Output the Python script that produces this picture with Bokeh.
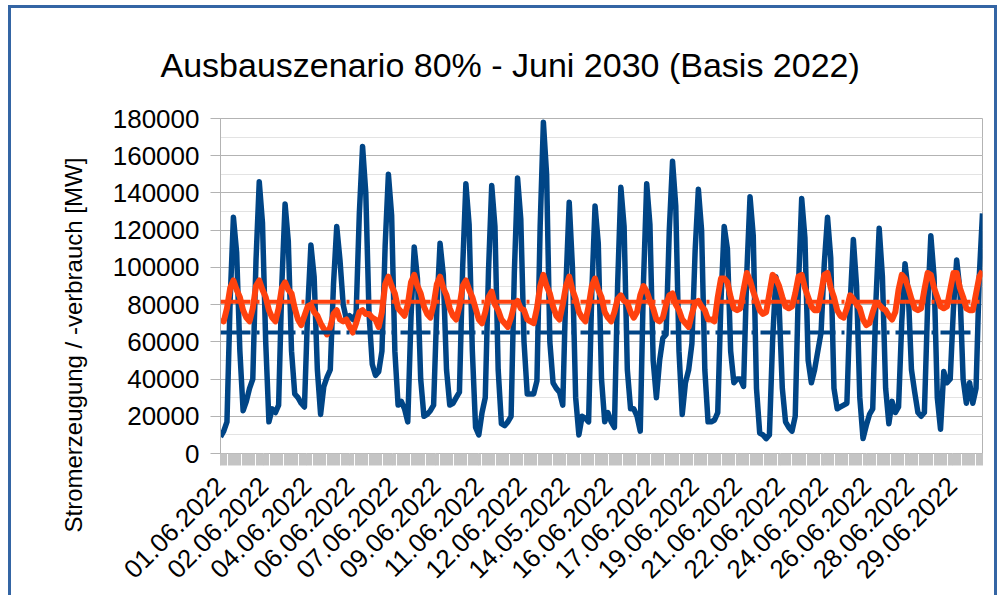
from math import pi
import numpy as np
from bokeh.plotting import figure
from bokeh.models import (Range1d, FixedTicker, SingleIntervalTicker,
                          NumeralTickFormatter, Title, Span)
from bokeh.embed import file_html
from bokeh.resources import INLINE

title_text = "Ausbauszenario 80% - Juni 2030 (Basis 2022)"
y_label = "Stromerzeugung / -verbrauch [MW]"
tick_labels = ["01.06.2022", "02.06.2022", "04.06.2022", "06.06.2022",
               "07.06.2022", "09.06.2022", "11.06.2022", "12.06.2022",
               "14.05.2022", "16.06.2022", "17.06.2022", "19.06.2022",
               "21.06.2022", "22.06.2022", "24.06.2022", "26.06.2022",
               "28.06.2022", "29.06.2022"]
hours_per_label = 40
step_hours = 3          # one value every 3 hours
x_end = 708

# generation [MW], 3-hourly (0,3,6,...,21 h) per day
gen = [
    9000, 12000, 17000, 83000, 127000, 108000, 55000, 23000,
    28000, 35000, 40000, 104000, 146000, 124000, 60000, 17000,
    24000, 22000, 26000, 91000, 134000, 114000, 55000, 32000,
    30000, 27000, 25000, 77000, 112000, 95000, 45000, 21000,
    36000, 41000, 45000, 91000, 122000, 104000, 80000, 72000,
    74000, 72000, 75000, 129000, 165000, 140000, 75000, 48000,
    42000, 44000, 55000, 112000, 150000, 128000, 55000, 26000,
    28000, 24000, 17000, 73000, 111000, 94000, 40000, 20000,
    21000, 23000, 26000, 78000, 113000, 96000, 45000, 26000,
    27000, 30000, 33000, 100000, 145000, 123000, 55000, 14000,
    10000, 22000, 30000, 98000, 144000, 122000, 45000, 16000,
    15000, 17000, 20000, 97000, 148000, 126000, 60000, 32000,
    32000, 32000, 39000, 122000, 178000, 150000, 60000, 38000,
    35000, 33000, 26000, 91000, 135000, 100000, 30000, 10000,
    20000, 19000, 17000, 87000, 133000, 113000, 40000, 17000,
    22000, 17000, 14000, 91000, 143000, 122000, 45000, 24000,
    24000, 20000, 12000, 92000, 145000, 123000, 50000, 30000,
    50000, 62000, 64000, 120000, 157000, 133000, 55000, 21000,
    38000, 45000, 59000, 109000, 142000, 120000, 45000, 17000,
    17000, 18000, 22000, 82000, 122000, 110000, 55000, 38000,
    40000, 40000, 36000, 97000, 138000, 117000, 35000, 11000,
    10000, 8000, 10000, 61000, 95000, 80000, 35000, 17000,
    14000, 12000, 20000, 90000, 137000, 116000, 50000, 38000,
    45000, 55000, 65000, 102000, 127000, 105000, 35000, 24000,
    25000, 26000, 27000, 80000, 115000, 90000, 30000, 8000,
    15000, 21000, 24000, 82000, 121000, 95000, 35000, 16000,
    28000, 22000, 25000, 71000, 102000, 87000, 45000, 33000,
    22000, 20000, 22000, 79000, 117000, 95000, 30000, 13000,
    44000, 38000, 40000, 78000, 104000, 88000, 40000, 27000,
    38000, 27000, 35000, 95000, 129000,
]

# consumption [MW], 3-hourly
load = [
    72000, 71000, 78000, 89000, 93000, 88000, 84000, 77000,
    73000, 71000, 78000, 90000, 93000, 88000, 84000, 77000,
    73000, 71000, 78000, 89000, 92000, 88000, 86000, 78000,
    72000, 69000, 74000, 79000, 80000, 76000, 74000, 70000,
    67000, 64000, 68000, 75000, 77000, 72000, 71000, 72000,
    68000, 65000, 70000, 76000, 77000, 75000, 75000, 73000,
    72000, 68000, 76000, 91000, 95000, 90000, 86000, 78000,
    76000, 74000, 80000, 92000, 96000, 90000, 86000, 79000,
    75000, 73000, 80000, 91000, 95000, 89000, 85000, 78000,
    74000, 72000, 79000, 90000, 93000, 88000, 84000, 78000,
    72000, 70000, 76000, 84000, 87000, 80000, 77000, 72000,
    70000, 68000, 73000, 80000, 82000, 78000, 77000, 72000,
    71000, 70000, 78000, 90000, 96000, 90000, 86000, 79000,
    74000, 72000, 80000, 90000, 95000, 88000, 83000, 76000,
    73000, 71000, 79000, 90000, 94000, 88000, 84000, 76000,
    73000, 71000, 76000, 83000, 85000, 82000, 81000, 76000,
    73000, 76000, 85000, 90000, 87000, 82000, 78000, 72000,
    71000, 73000, 80000, 85000, 86000, 80000, 77000, 72000,
    70000, 68000, 75000, 81000, 82000, 79000, 77000, 72000,
    72000, 71000, 84000, 94000, 94000, 92000, 84000, 78000,
    77000, 78000, 88000, 97000, 93000, 87000, 82000, 77000,
    75000, 76000, 86000, 96000, 94000, 90000, 84000, 79000,
    78000, 79000, 86000, 95000, 96000, 89000, 84000, 79000,
    77000, 77000, 86000, 96000, 97000, 89000, 84000, 77000,
    74000, 73000, 78000, 85000, 83000, 80000, 78000, 72000,
    69000, 70000, 76000, 81000, 80000, 78000, 77000, 74000,
    72000, 76000, 88000, 96000, 94000, 89000, 83000, 78000,
    77000, 78000, 88000, 97000, 96000, 89000, 84000, 79000,
    78000, 79000, 88000, 97000, 97000, 89000, 84000, 78000,
    77000, 77000, 86000, 95000, 98000,
]

gen_mean = 65000
load_mean = 81500

FONT = "Liberation Sans"
BLUE = "#004586"
ORANGE = "#ff420e"
GRAY = "#b3b3b3"
FRAME = "3px solid #3465a4"

p = figure(width=989, height=590, output_backend="svg", toolbar_location=None,
           x_range=Range1d(0, x_end), y_range=Range1d(0, 180000),
           min_border_left=209, min_border_right=18,
           min_border_top=110, min_border_bottom=145,
           background_fill_color="white", border_fill_color="white")
p.styles = {"border-top": FRAME, "border-left": FRAME, "border-right": FRAME,
            "margin-left": "8px", "margin-top": "5px"}

t = Title(text=title_text, align="left", offset=-60, text_font=FONT,
          text_font_size="34px", text_font_style="normal", text_color="black",
          standoff=70)
p.add_layout(t, "above")

yt = Title(text=y_label, align="left", offset=-79, vertical_align="bottom",
           text_font=FONT, text_font_size="24px", text_font_style="normal",
           text_color="black", standoff=46)
p.add_layout(yt, "left")

xs_gen = np.arange(len(gen)) * step_hours
xs_load = np.arange(len(load)) * step_hours

p.line(xs_gen, gen, line_color=BLUE, line_width=5.5, line_join="round")
p.add_layout(Span(location=gen_mean, dimension="width", line_color=BLUE,
                  line_width=4, line_dash="30 6 3 6"))
p.line(xs_load, load, line_color=ORANGE, line_width=6, line_join="round")
p.add_layout(Span(location=load_mean, dimension="width", line_color=ORANGE,
                  line_width=4, line_dash="30 6 3 6"))

major = [i * hours_per_label for i in range(len(tick_labels))]
p.xaxis.ticker = FixedTicker(ticks=major, minor_ticks=list(range(0, x_end + 1)))
p.xaxis.major_label_overrides = {m: l for m, l in zip(major, tick_labels)}
p.xaxis.major_label_orientation = pi / 4
p.xaxis.axis_line_color = GRAY
p.xaxis.major_tick_line_color = "#e6e6e6"
p.xaxis.major_tick_out = 12
p.xaxis.major_tick_in = 0
p.xaxis.minor_tick_line_color = "#c4c4c4"
p.xaxis.minor_tick_out = 12
p.xaxis.minor_tick_in = 0
p.xaxis.major_label_text_font = FONT
p.xaxis.major_label_text_font_size = "26px"
p.xaxis.major_label_text_color = "black"
p.xaxis.major_label_standoff = 16

p.yaxis.ticker = SingleIntervalTicker(interval=20000, num_minor_ticks=2)
p.yaxis.formatter = NumeralTickFormatter(format="0")
p.yaxis.axis_line_color = GRAY
p.yaxis.major_tick_line_color = GRAY
p.yaxis.major_tick_out = 10
p.yaxis.major_tick_in = 0
p.yaxis.minor_tick_line_color = None
p.yaxis.major_label_text_font = FONT
p.yaxis.major_label_text_font_size = "26px"
p.yaxis.major_label_text_color = "black"
p.yaxis.major_label_standoff = 11

p.xgrid.visible = False
p.ygrid.grid_line_color = GRAY
p.ygrid.minor_grid_line_color = "#e3e3e3"
p.outline_line_color = GRAY

open("out.html", "w").write(file_html(p, INLINE))
